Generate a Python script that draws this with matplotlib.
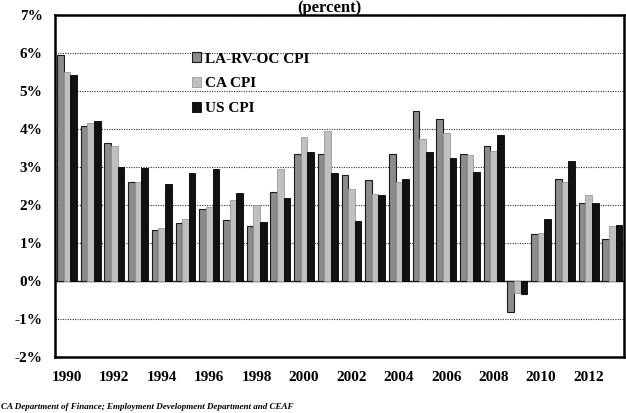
import numpy as np
import matplotlib
matplotlib.use("Agg")
import matplotlib.pyplot as plt

years = np.arange(1990, 2014)
la_cpi = [5.94, 4.07, 3.62, 2.60, 1.33, 1.53, 1.88, 1.60, 1.45, 2.34, 3.35, 3.35,
          2.78, 2.65, 3.35, 4.47, 4.27, 3.33, 3.55, -0.82, 1.22, 2.69, 2.04, 1.09]
ca_cpi = [5.50, 4.16, 3.55, 2.60, 1.38, 1.64, 1.95, 2.14, 1.99, 2.94, 3.79, 3.95,
          2.41, 2.28, 2.60, 3.72, 3.90, 3.30, 3.42, -0.33, 1.27, 2.60, 2.26, 1.44]
us_cpi = [5.41, 4.21, 3.00, 2.98, 2.54, 2.84, 2.94, 2.30, 1.55, 2.18, 3.39, 2.84,
          1.58, 2.26, 2.68, 3.39, 3.24, 2.87, 3.85, -0.35, 1.64, 3.16, 2.05, 1.47]
series_names = ["LA-RV-OC CPI", "CA CPI", "US CPI"]
tick_years = np.arange(1990, 2013, 2)

serif = ["Liberation Serif", "DejaVu Serif"]
plt.rcParams["font.family"] = serif
plt.rcParams["font.weight"] = "bold"

fig = plt.figure(figsize=(6.26, 4.13), dpi=100)
ax = fig.add_axes([0.088, 0.136, 0.909, 0.828])

w = 0.28
ax.bar(years - w, la_cpi, w, color="#8c8c8c", edgecolor="#1a1a1a", linewidth=0.8,
       label=series_names[0], zorder=3)
ax.bar(years, ca_cpi, w, color="#c0c0c0", edgecolor="#9a9a9a", linewidth=0.6,
       label=series_names[1], zorder=3)
ax.bar(years + w, us_cpi, w, color="#111111", edgecolor="#000000", linewidth=0.6,
       label=series_names[2], zorder=3)

ax.set_xlim(1989.5, 2013.5)
ax.set_ylim(-2, 7)
ax.set_yticks(np.arange(-2, 8, 1))
ax.set_yticklabels([f"{v}%" for v in range(-2, 8)], fontsize=11, fontweight="bold")
ax.set_xticks(tick_years)
ax.set_xticklabels([str(y) for y in tick_years], fontsize=11, fontweight="bold")
ax.tick_params(axis="both", length=0)
ax.tick_params(axis="y", pad=9)
ax.tick_params(axis="x", pad=10)

ax.grid(axis="y", linestyle=(0, (1, 1.2)), color="#333333", linewidth=0.8, zorder=0)
ax.axhline(0, color="#222222", linewidth=1.0, zorder=2)
for s in ax.spines.values():
    s.set_linewidth(1.8)
    s.set_color("black")

ax.legend(loc="upper left", bbox_to_anchor=(0.24, 0.89), frameon=False,
          handlelength=0.6, handleheight=0.6, handletextpad=0.3,
          labelspacing=0.75, borderpad=0, borderaxespad=0,
          prop={"weight": "bold", "size": 11})

fig.text(0.526, 0.972, "(percent)", ha="center", va="baseline", fontsize=12,
         fontweight="bold")
fig.text(0.002, 0.004, "CA Department of Finance; Employment Development Department and CEAF",
         ha="left", va="bottom", fontsize=6.5, fontweight="bold", style="italic")

fig.savefig("out.png", dpi=100)
